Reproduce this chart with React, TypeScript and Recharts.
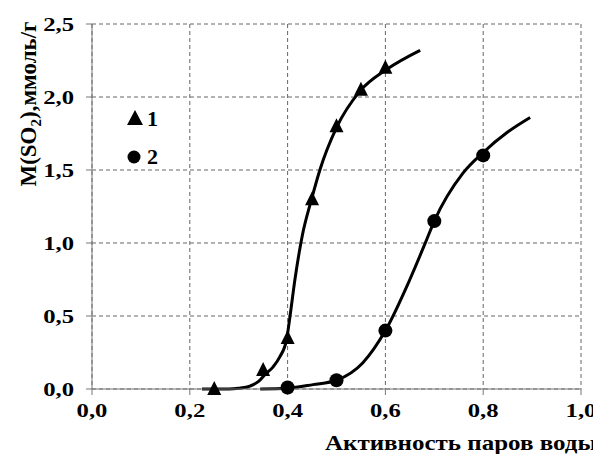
import React from "react";
import {
  ComposedChart,
  Line,
  Scatter,
  XAxis,
  YAxis,
  CartesianGrid,
  Legend,
} from "recharts";

// Series 1 (triangles) measured points
const s1X = [0.25, 0.35, 0.4, 0.45, 0.5, 0.55, 0.6];
const s1Y = [0.0, 0.13, 0.35, 1.3, 1.8, 2.05, 2.2];
// Series 2 (circles) measured points
const s2X = [0.4, 0.5, 0.6, 0.7, 0.8];
const s2Y = [0.01, 0.06, 0.4, 1.15, 1.6];

// Fitted curve 1
const c1X = [0.225, 0.25, 0.28, 0.3, 0.323, 0.34, 0.354, 0.37, 0.384, 0.398, 0.405, 0.415, 0.43, 0.449, 0.466, 0.5, 0.548, 0.603, 0.671];
const c1Y = [0.0, 0.0, 0.0, 0.005, 0.02, 0.05, 0.1, 0.15, 0.22, 0.34, 0.5, 0.75, 1.05, 1.3, 1.5, 1.79, 2.04, 2.19, 2.32];
// Fitted curve 2
const c2X = [0.344, 0.4, 0.452, 0.5, 0.554, 0.6, 0.65, 0.684, 0.7, 0.759, 0.8, 0.85, 0.896];
const c2Y = [0.0, 0.005, 0.03, 0.06, 0.18, 0.4, 0.75, 1.02, 1.15, 1.48, 1.62, 1.76, 1.86];

const xTicks = [0, 0.2, 0.4, 0.6, 0.8, 1.0];
const yTicks = [0, 0.5, 1.0, 1.5, 2.0, 2.5];
const legendLabels = ["1", "2"];
const xTitle = "Активность паров воды";

const zip = (xs: number[], ys: number[]) => xs.map((x, i) => ({ x, y: ys[i] }));
const s1 = zip(s1X, s1Y);
const s2 = zip(s2X, s2Y);
const c1 = zip(c1X, c1Y);
const c2 = zip(c2X, c2Y);

const FONT = "'Liberation Serif', 'Times New Roman', serif";
const fmt = (v: number) => v.toFixed(1).replace(".", ",");

const YTick = (props: any) => {
  const { x, y, payload } = props;
  return (
    <g transform={`translate(${x},${y})`}>
      <text x={0} y={0} dy={7} textAnchor="end" transform="scale(1.3,1)" fontFamily={FONT} fontWeight="bold" fontSize={19} fill="#000">
        {fmt(payload.value)}
      </text>
    </g>
  );
};

const XTick = (props: any) => {
  const { x, y, payload } = props;
  return (
    <g transform={`translate(${x},${y})`}>
      <text x={0} y={0} dy={14} textAnchor="middle" transform="scale(1.3,1)" fontFamily={FONT} fontWeight="bold" fontSize={19} fill="#000">
        {fmt(payload.value)}
      </text>
    </g>
  );
};

const Triangle = (props: any) => {
  const { cx, cy } = props;
  return <polygon points={`${cx},${cy - 8} ${cx - 7},${cy + 6} ${cx + 7},${cy + 6}`} fill="#000" />;
};
const Dot = (props: any) => {
  const { cx, cy } = props;
  return <circle cx={cx} cy={cy} r={7} fill="#000" />;
};

const LegendContent = () => (
  <svg width={50} height={70} style={{ display: "block" }}>
    <polygon points="16,8 8,23 24,23" fill="#000" />
    <text x={28} y={24} fontFamily={FONT} fontWeight="bold" fontSize={22}>{legendLabels[0]}</text>
    <circle cx={15} cy={55} r={6.5} fill="#000" />
    <text x={28} y={62} fontFamily={FONT} fontWeight="bold" fontSize={22}>{legendLabels[1]}</text>
  </svg>
);

const XTitle = (props: any) => (
  <text x={317} y={442} textAnchor="start" fontFamily={FONT} fontWeight="bold" fontSize={22} textLength={272} lengthAdjust="spacingAndGlyphs" fill="#000">
    {xTitle}
  </text>
);

const YTitle = (props: any) => (
  <text transform="translate(28,96) rotate(-90)" x={0} y={0} textAnchor="middle" fontFamily={FONT} fontWeight="bold" fontSize={23} fill="#000">
    M(SO<tspan fontSize={15} dy={5}>2</tspan><tspan dy={-5}>),ммоль/г</tspan>
  </text>
);

export default function App() {
  return (
    <ComposedChart width={593} height={446} margin={{ top: 16, right: 20, left: 0, bottom: 0 }}>
      <CartesianGrid stroke="#666" strokeDasharray="4 3" />
      <XAxis
        type="number"
        dataKey="x"
        domain={[0, 1]}
        ticks={xTicks}
        height={65}
        stroke="#777"
        tickSize={6}
        tickMargin={8}
        tick={<XTick />}
        label={<XTitle />}
      />
      <YAxis
        type="number"
        dataKey="y"
        domain={[0, 2.5]}
        ticks={yTicks}
        width={84}
        stroke="#777"
        tickSize={6}
        tickMargin={12}
        tick={<YTick />}
        label={<YTitle />}
      />
      <Line data={c1} dataKey="y" type="monotone" stroke="#000" strokeWidth={3} dot={false} isAnimationActive={false} />
      <Line data={c2} dataKey="y" type="monotone" stroke="#000" strokeWidth={3} dot={false} isAnimationActive={false} />
      <Scatter data={s1} dataKey="y" shape={<Triangle />} isAnimationActive={false} />
      <Scatter data={s2} dataKey="y" shape={<Dot />} isAnimationActive={false} />
      <Legend
        layout="horizontal"
        verticalAlign="middle"
        align="center"
        content={<LegendContent />}
        wrapperStyle={{ position: "absolute", left: 111, top: 94, width: 50, height: 70 }}
      />
    </ComposedChart>
  );
}
